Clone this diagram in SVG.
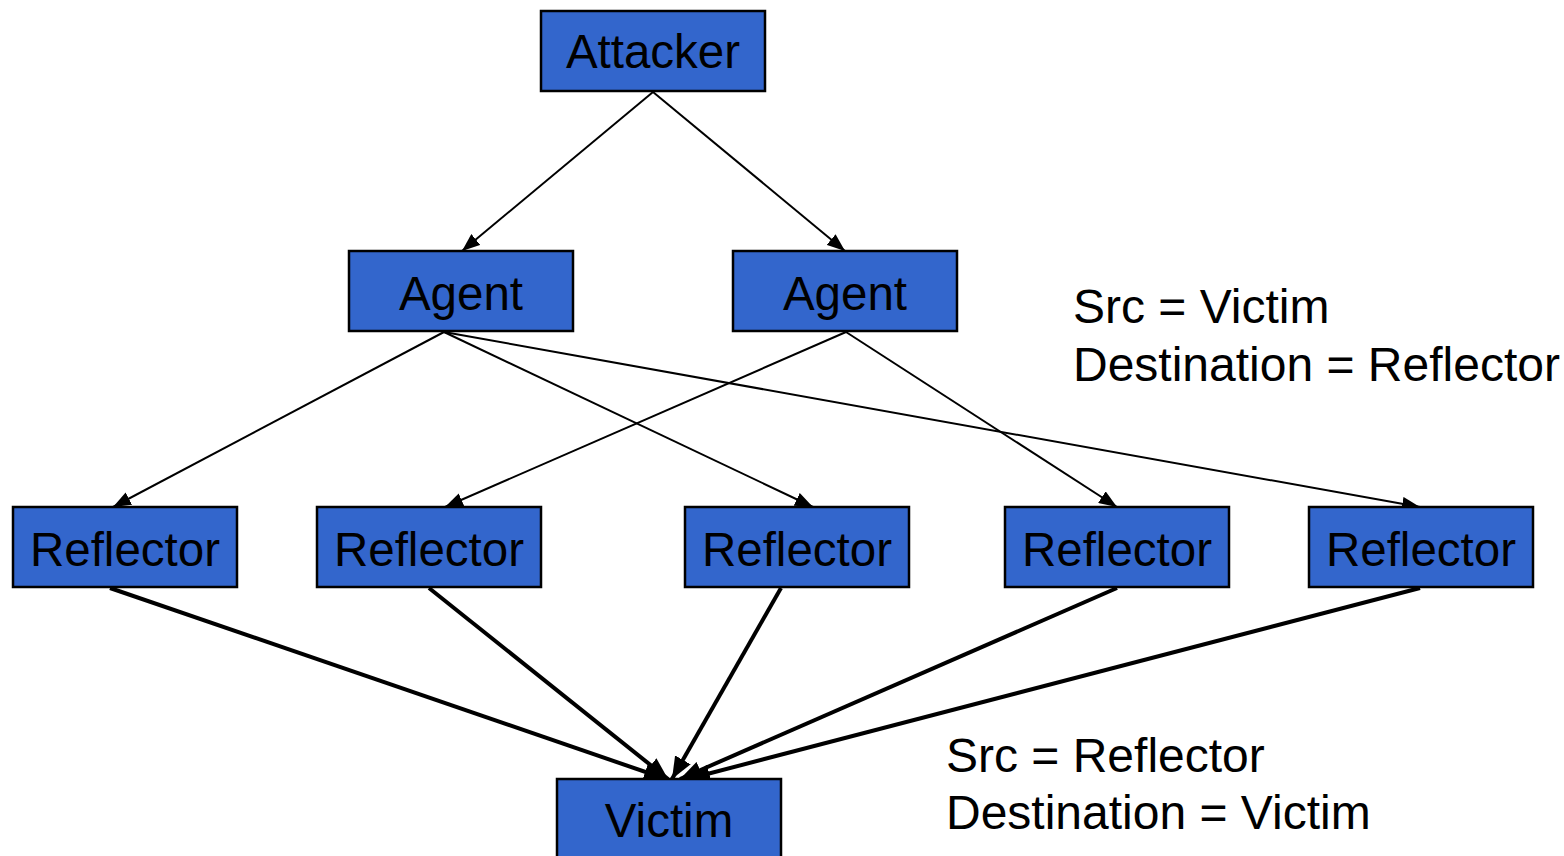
<svg xmlns="http://www.w3.org/2000/svg" width="1564" height="856" viewBox="0 0 1564 856">
  <style>
    .box { fill: #3366cc; stroke: #000; stroke-width: 2.5; }
    .lbl { font-family: "Liberation Sans", Arial, sans-serif; font-size: 47.5px; fill: #000; text-anchor: middle; }
    .note { font-family: "Liberation Sans", Arial, sans-serif; font-size: 48px; fill: #000; }
    .thin { stroke: #000; stroke-width: 2; fill: none; marker-end: url(#ah); }
    .thick { stroke: #000; stroke-width: 4; fill: none; marker-end: url(#ahb); }
  </style>
  <defs>
    <marker id="ah" markerUnits="userSpaceOnUse" markerWidth="20" markerHeight="14" refX="18" refY="7" orient="auto">
      <path d="M0,0 L18,7 L0,14 Z" fill="#000"/>
    </marker>
    <marker id="ahb" markerUnits="userSpaceOnUse" markerWidth="24" markerHeight="18" refX="22" refY="9" orient="auto">
      <path d="M0,0 L22,9 L0,18 Z" fill="#000"/>
    </marker>
  </defs>
  <rect width="1564" height="856" fill="#fff"/>

  <g id="connectors">
    <line class="thin" x1="653" y1="92" x2="462" y2="251"/>
    <line class="thin" x1="653" y1="92" x2="845" y2="251"/>
    <line class="thin" x1="444" y1="332" x2="113" y2="507"/>
    <line class="thin" x1="444" y1="332" x2="813" y2="507"/>
    <line class="thin" x1="444" y1="332" x2="1420" y2="507"/>
    <line class="thin" x1="846" y1="332" x2="445" y2="507"/>
    <line class="thin" x1="846" y1="332" x2="1117" y2="507"/>
    <line class="thick" x1="110" y1="588" x2="666" y2="779"/>
    <line class="thick" x1="429" y1="588" x2="668" y2="779"/>
    <line class="thick" x1="781" y1="588" x2="672" y2="779"/>
    <line class="thick" x1="1117" y1="588" x2="680" y2="779"/>
    <line class="thick" x1="1420" y1="588" x2="688" y2="779"/>
  </g>

  <g id="attacker"><rect class="box" x="541" y="11" width="224" height="80"/><text class="lbl" x="653" y="68">Attacker</text></g>
  <g id="agent1"><rect class="box" x="349" y="251" width="224" height="80"/><text class="lbl" x="461" y="310">Agent</text></g>
  <g id="agent2"><rect class="box" x="733" y="251" width="224" height="80"/><text class="lbl" x="845" y="310">Agent</text></g>
  <g id="reflector1"><rect class="box" x="13" y="507" width="224" height="80"/><text class="lbl" x="125" y="566">Reflector</text></g>
  <g id="reflector2"><rect class="box" x="317" y="507" width="224" height="80"/><text class="lbl" x="429" y="566">Reflector</text></g>
  <g id="reflector3"><rect class="box" x="685" y="507" width="224" height="80"/><text class="lbl" x="797" y="566">Reflector</text></g>
  <g id="reflector4"><rect class="box" x="1005" y="507" width="224" height="80"/><text class="lbl" x="1117" y="566">Reflector</text></g>
  <g id="reflector5"><rect class="box" x="1309" y="507" width="224" height="80"/><text class="lbl" x="1421" y="566">Reflector</text></g>
  <g id="victim"><rect class="box" x="557" y="779" width="224" height="90"/><text class="lbl" x="669" y="837">Victim</text></g>

  <g id="note-agent">
    <text class="note" x="1073" y="323">Src = Victim</text>
    <text class="note" x="1073" y="381">Destination = Reflector</text>
  </g>
  <g id="note-reflector">
    <text class="note" x="946" y="772">Src = Reflector</text>
    <text class="note" x="946" y="829">Destination = Victim</text>
  </g>
</svg>
